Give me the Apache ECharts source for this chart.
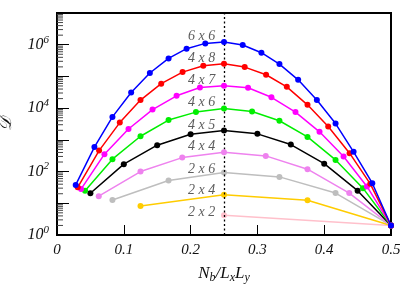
<!DOCTYPE html>
<html>
<head>
<meta charset="utf-8">
<script src="https://cdn.jsdelivr.net/npm/echarts@6/dist/echarts.min.js"></script>
<style>html,body{margin:0;padding:0;background:#fff}#c{width:415px;height:291px}</style>
</head>
<body>
<div id="c"></div>
<script>
// ---- data ----
const x6x6 = [0.028,0.056,0.083,0.111,0.139,0.167,0.194,0.222,0.25,0.278,0.306,0.333,0.361,0.389,0.417,0.444,0.472,0.5];
const y6x6 = [38,590,5300,31000,128000,370000,750000,1100000,1220000,980000,560000,245000,78000,18000,3270,418,43,2];
const x4x8 = [0.031,0.063,0.094,0.125,0.156,0.188,0.219,0.25,0.281,0.313,0.344,0.375,0.406,0.438,0.469,0.5];
const y4x8 = [32,459,3500,18000,59000,137000,217000,250000,197000,113000,47000,12700,2630,380,41,2];
const x4x7 = [0.036,0.071,0.107,0.143,0.179,0.214,0.25,0.286,0.321,0.357,0.393,0.429,0.464,0.5];
const y4x7 = [28,353,2200,9000,24500,45000,51000,44000,22000,7500,1790,297,34,2];
const x4x6 = [0.042,0.083,0.125,0.167,0.208,0.25,0.292,0.333,0.375,0.417,0.458,0.5];
const y4x6 = [25,246,1300,4200,7500,9700,7800,4000,1240,233,30,2];
const x4x5 = [0.05,0.1,0.15,0.2,0.25,0.3,0.35,0.4,0.45,0.5];
const y4x5 = [20.7,171,680,1510,1960,1545,710,178,25,2];
const x4x4 = [0.0625,0.125,0.1875,0.25,0.3125,0.375,0.4375,0.5];
const y4x4 = [16.7,100,276,410,312,119,21,2];
const x2x6 = [0.083,0.167,0.25,0.333,0.417,0.5];
const y2x6 = [12.7,52,93,68,21,2];
const x2x4 = [0.125,0.25,0.375,0.5];
const y2x4 = [8.2,18.7,12.5,2];
const x2x2 = [0.25,0.5];
const y2x2 = [4.2,2];
const sizeNames = ['2 x 2','2 x 4','2 x 6','4 x 4','4 x 5','4 x 6','4 x 7','4 x 8','6 x 6'];
const labelY = [5.06,25,119,614,2970,15500,78000,380000,1900000];
const xTicks = [0,0.1,0.2,0.3,0.4,0.5];

const seriesDefs = [
  {name:'2 x 2', x:x2x2, y:y2x2, color:'#ffc0cb'},
  {name:'2 x 4', x:x2x4, y:y2x4, color:'#ffcc00'},
  {name:'2 x 6', x:x2x6, y:y2x6, color:'#bebebe'},
  {name:'4 x 4', x:x4x4, y:y4x4, color:'#ee82ee'},
  {name:'4 x 5', x:x4x5, y:y4x5, color:'#000000'},
  {name:'4 x 6', x:x4x6, y:y4x6, color:'#00ee00'},
  {name:'4 x 7', x:x4x7, y:y4x7, color:'#ff00ff'},
  {name:'4 x 8', x:x4x8, y:y4x8, color:'#ff0000'},
  {name:'6 x 6', x:x6x6, y:y6x6, color:'#0000ff'}
];

const serif = 'Liberation Serif';
const chart = echarts.init(document.getElementById('c'), null, {renderer:'canvas'});

// minor log ticks values
const minorVals = [];
for (let k = 0; k < 7; k++) for (let m = 2; m <= 9; m++) minorVals.push([0, m * Math.pow(10, k)]);

const series = seriesDefs.map((s, i) => ({
  type:'line', name:s.name,
  data:s.x.map((xv, j) => [xv, s.y[j]]),
  symbol:'circle', symbolSize:6,
  lineStyle:{color:s.color, width:1.5},
  itemStyle:{color:s.color},
  z: 2 + i, animation:false
}));

series.push({
  type:'scatter', name:'labels',
  data: sizeNames.map((n, i) => ({value:[0.237, labelY[i]], name:n})),
  symbolSize:0, silent:true, animation:false, z:20,
  label:{show:true, position:'left', distance:0, formatter:p => p.name,
    fontFamily:serif, fontStyle:'italic', fontSize:14, color:'#333'},
  markLine:{symbol:'none', silent:true, animation:false, label:{show:false},
    lineStyle:{type:[2,2.5], color:'#000', width:1.3},
    data:[{xAxis:0.25}]}
});

series.push({
  type:'custom', name:'minor', data:minorVals, silent:true, animation:false, clip:false, z:30,
  renderItem:(params, api) => {
    const p = api.coord([0, api.value(1)]);
    return {type:'line', shape:{x1:p[0], y1:p[1], x2:p[0]+6, y2:p[1]},
      style:{stroke:'#444', lineWidth:1}};
  }
});

chart.setOption({
  backgroundColor:'#fff',
  animation:false,
  grid:{left:57, right:24, top:13, bottom:56, show:true, borderColor:'#000', borderWidth:2,
    backgroundColor:'transparent', containLabel:false, outerBoundsMode:'none'},
  xAxis:{
    type:'value', min:0, max:0.5, interval:0.1,
    axisLine:{show:true, lineStyle:{color:'#000', width:2}},
    axisTick:{show:true, inside:true, length:10, lineStyle:{color:'#000', width:1}},
    splitLine:{show:false},
    axisLabel:{fontFamily:serif, fontStyle:'italic', fontSize:15, color:'#111', margin:8,
      formatter:v => { const t = xTicks.find(q => Math.abs(q - v) < 1e-9); return t === 0 ? '0' : String(t); }},
    name:'N{s|b}/L{s|x}L{s|y}', nameLocation:'middle', nameGap:28,
    nameTextStyle:{fontFamily:serif, fontStyle:'italic', fontSize:17, color:'#111',
      rich:{s:{fontFamily:serif, fontStyle:'italic', fontSize:12, color:'#111', padding:[9,0,0,0]}}}
  },
  yAxis:{
    type:'log', logBase:10, min:1, max:1e7,
    axisLine:{show:true, lineStyle:{color:'#000', width:2}},
    axisTick:{show:true, inside:true, length:12, lineStyle:{color:'#000', width:1}},
    minorTick:{show:false},
    splitLine:{show:false},
    axisLabel:{margin:8, color:'#111',
      formatter:v => { const e = Math.round(Math.log10(v)); return e % 2 === 0 ? '{b|10}{s|' + e + '}' : ''; },
      rich:{b:{fontFamily:serif, fontStyle:'italic', fontSize:16, color:'#111'},
            s:{fontFamily:serif, fontStyle:'italic', fontSize:11, color:'#111', padding:[0,0,10,0]}}},
    name:'𝒟', nameLocation:'middle', nameGap:42, nameRotate:90,
    nameTextStyle:{fontFamily:serif, fontStyle:'italic', fontSize:17, color:'#111'}
  },
  series:series
});
</script>
</body>
</html>
